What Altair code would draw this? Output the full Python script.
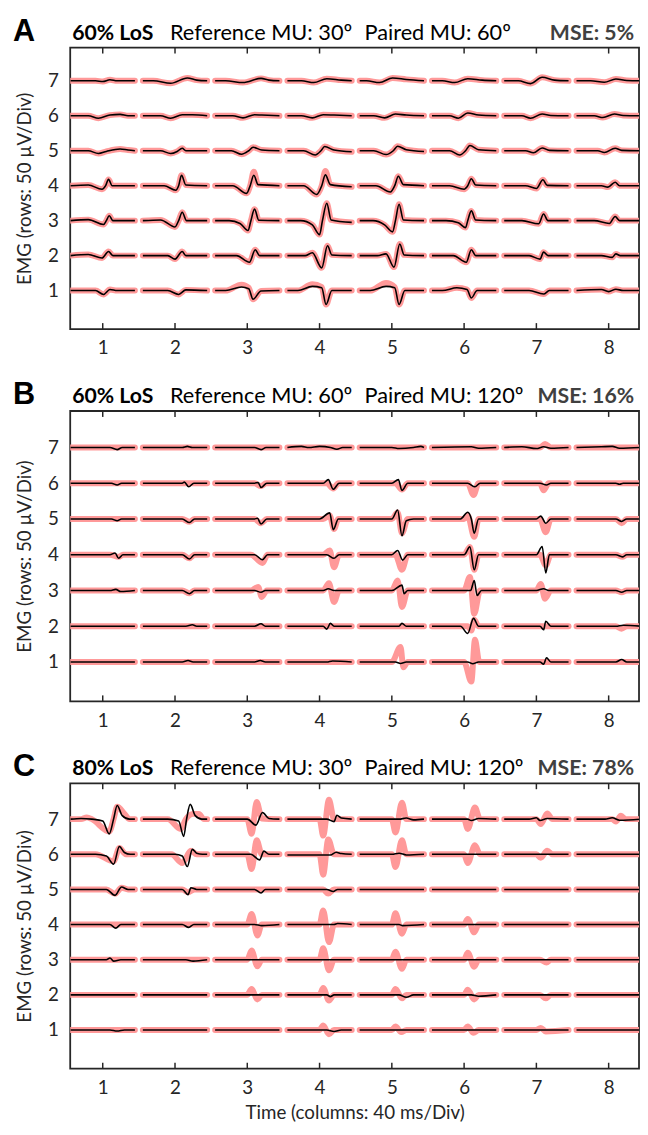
import altair as alt
import pandas as pd

# ---------------- data ----------------
COLS = [1, 2, 3, 4, 5, 6, 7, 8]
ROWS = [1, 2, 3, 4, 5, 6, 7]
X_TICKS = [1, 2, 3, 4, 5, 6, 7, 8]
Y_TICKS = [1, 2, 3, 4, 5, 6, 7]
HALF = 0.445  # half width of one waveform window (in column units)

# Each cell (column, row) -> keypoints (time offset in columns, amplitude in rows)
# Cells not listed are flat.

# Panel A - paired MU (black)
A_PAIRED = {
    (1, 7): [(-0.1, 0), (0.0, -0.02), (0.1, 0.03), (0.2, 0)],
    (2, 7): [(-0.3, 0), (-0.06, -0.07), (0.17, 0.08), (0.3, 0.02)],
    (3, 7): [(-0.3, 0), (-0.06, -0.05), (0.19, 0.07), (0.3, 0.02)],
    (4, 7): [(-0.25, 0), (-0.08, -0.05), (0.1, 0.06), (0.3, 0.02)],
    (5, 7): [(-0.35, 0), (-0.17, -0.05), (0.01, 0.08), (0.2, 0.04)],
    (6, 7): [(-0.3, 0), (-0.13, -0.05), (0.05, 0.06), (0.25, 0.02)],
    (7, 7): [(-0.25, 0), (-0.08, -0.08), (0.08, 0.1), (0.25, 0.02)],
    (8, 7): [(-0.25, 0), (-0.06, -0.04), (0.1, 0.05), (0.25, 0.01)],
    (1, 6): [(-0.2, 0), (-0.06, -0.07), (0.1, 0.02), (0.24, 0.04), (0.35, 0)],
    (2, 6): [(-0.2, 0), (-0.06, -0.07), (0.1, 0.03), (0.24, 0.03)],
    (3, 6): [(-0.2, 0), (-0.06, -0.06), (0.1, 0.03), (0.2, 0.02)],
    (4, 6): [(-0.25, 0), (-0.1, -0.06), (0.05, 0.03), (0.2, 0.02)],
    (5, 6): [(-0.25, 0), (-0.1, -0.06), (0.05, 0.05), (0.2, 0.02)],
    (6, 6): [(-0.2, 0), (-0.08, -0.07), (0.05, 0.08), (0.2, 0.02)],
    (7, 6): [(-0.2, 0), (-0.08, -0.07), (0.08, 0.05), (0.2, 0.01)],
    (8, 6): [(-0.2, 0), (-0.08, -0.05), (0.08, 0.05), (0.2, 0.01)],
    (1, 5): [(-0.2, 0), (-0.06, -0.08), (0.05, -0.02), (0.24, 0.05), (0.35, 0.02)],
    (2, 5): [(-0.2, 0), (-0.06, -0.08), (0.03, -0.02), (0.1, 0.07), (0.15, 0.0)],
    (3, 5): [(-0.22, 0), (-0.08, -0.1), (0.02, 0), (0.08, 0.1), (0.2, 0.02)],
    (4, 5): [(-0.22, 0), (-0.06, -0.12), (0.02, 0), (0.07, 0.12), (0.2, 0.02), (0.445, -0.03)],
    (5, 5): [(-0.25, 0), (-0.08, -0.11), (0.02, 0), (0.08, 0.13), (0.2, 0.03), (0.445, -0.02)],
    (6, 5): [(-0.2, 0), (-0.06, -0.12), (0.02, 0), (0.08, 0.15), (0.2, 0.03)],
    (7, 5): [(-0.15, 0), (-0.04, -0.06), (0.08, 0.08), (0.18, 0.01)],
    (8, 5): [(-0.15, 0), (-0.06, -0.05), (0.09, 0.07), (0.18, 0.01)],
    (1, 4): [(-0.2, 0.02), (-0.01, -0.1), (0.04, 0), (0.08, 0.18), (0.13, 0.0)],
    (2, 4): [(-0.15, 0), (0.01, -0.13), (0.05, 0), (0.09, 0.3), (0.15, 0.02)],
    (3, 4): [(-0.2, 0), (-0.01, -0.22), (0.04, 0), (0.09, 0.3), (0.15, 0.03)],
    (4, 4): [(-0.22, 0), (-0.04, -0.25), (0.03, 0), (0.08, 0.31), (0.15, 0.03), (0.445, -0.03)],
    (5, 4): [(-0.22, 0), (-0.02, -0.18), (0.04, 0), (0.09, 0.27), (0.16, 0.03)],
    (6, 4): [(-0.2, 0), (0.0, -0.1), (0.05, 0), (0.1, 0.2), (0.16, 0.02)],
    (7, 4): [(-0.15, 0), (0.0, -0.08), (0.09, 0.17), (0.15, 0.01)],
    (8, 4): [(-0.1, 0), (-0.01, -0.04), (0.09, 0.1), (0.15, 0.0)],
    (1, 3): [(-0.2, 0.03), (0.01, -0.11), (0.05, 0), (0.09, 0.14), (0.14, 0)],
    (2, 3): [(-0.2, 0.02), (0.0, -0.18), (0.05, 0), (0.1, 0.24), (0.16, 0)],
    (3, 3): [(-0.25, 0), (-0.1, -0.08), (0.01, -0.28), (0.05, 0), (0.1, 0.33), (0.16, 0.01)],
    (4, 3): [(-0.26, 0), (-0.1, -0.12), (0.0, -0.4), (0.04, 0), (0.1, 0.5), (0.16, 0.02), (0.445, -0.05)],
    (5, 3): [(-0.26, 0), (-0.1, -0.12), (0.01, -0.32), (0.05, 0), (0.1, 0.47), (0.16, 0.02)],
    (6, 3): [(-0.25, 0), (-0.08, -0.06), (0.02, -0.2), (0.05, 0), (0.1, 0.28), (0.16, 0.02)],
    (7, 3): [(-0.2, 0), (0.03, -0.09), (0.1, 0.19), (0.16, 0.0)],
    (8, 3): [(-0.2, 0), (0.01, -0.08), (0.09, 0.12), (0.15, 0.0)],
    (1, 2): [(-0.2, 0.03), (-0.01, -0.07), (0.08, 0.12), (0.14, 0)],
    (2, 2): [(-0.1, 0), (0.0, -0.1), (0.1, 0.12), (0.15, 0)],
    (3, 2): [(-0.15, 0), (0.03, -0.19), (0.11, 0.17), (0.17, 0.0)],
    (4, 2): [(-0.2, 0), (-0.1, 0.08), (0.03, -0.35), (0.11, 0.28), (0.17, 0.02)],
    (5, 2): [(-0.2, 0), (-0.08, 0.05), (0.03, -0.33), (0.11, 0.33), (0.17, 0.02)],
    (6, 2): [(-0.15, 0), (0.03, -0.19), (0.1, 0.17), (0.16, 0.0)],
    (7, 2): [(-0.1, 0), (0.05, -0.1), (0.1, 0.1), (0.16, 0)],
    (8, 2): [(-0.1, 0), (0.05, -0.05), (0.1, 0.05), (0.16, 0)],
    (1, 1): [(-0.1, 0), (0.01, -0.11), (0.1, 0.03), (0.2, 0)],
    (2, 1): [(-0.1, 0), (0.05, -0.11), (0.15, 0.02)],
    (3, 1): [(-0.3, 0), (-0.08, 0.1), (0.02, 0.05), (0.08, -0.25), (0.19, -0.01)],
    (4, 1): [(-0.3, 0), (-0.1, 0.12), (0.03, 0.08), (0.09, -0.4), (0.17, 0.0)],
    (5, 1): [(-0.3, 0), (-0.08, 0.12), (0.04, 0.08), (0.1, -0.4), (0.18, 0.0)],
    (6, 1): [(-0.3, 0), (-0.1, 0.08), (0.04, 0.03), (0.1, -0.21), (0.18, 0)],
    (7, 1): [(-0.1, 0), (0.1, -0.1), (0.18, 0)],
    (8, 1): [(-0.1, 0.03), (0.0, -0.03), (0.1, 0.04), (0.2, 0)],
}
# Panel A - reference MU (pink): same as paired except these cells
A_REFERENCE_DIFF = {
    (3, 4): [(-0.2, 0), (-0.01, -0.22), (0.04, 0), (0.09, 0.4), (0.15, 0.03)],
    (4, 4): [(-0.22, 0), (-0.04, -0.25), (0.03, 0), (0.08, 0.42), (0.15, 0.03), (0.445, -0.03)],
    (3, 1): [(-0.3, 0), (-0.08, 0.17), (0.02, 0.08), (0.08, -0.25), (0.19, -0.01)],
    (4, 1): [(-0.3, 0), (-0.1, 0.18), (0.03, 0.1), (0.09, -0.4), (0.17, 0.0)],
    (5, 1): [(-0.3, 0), (-0.08, 0.22), (0.04, 0.1), (0.1, -0.4), (0.18, 0.0)],
}
A_REFERENCE = {**A_PAIRED, **A_REFERENCE_DIFF}

# Panel B - paired MU (black)
B_PAIRED = {
    (1, 7): [(0.1, 0), (0.2, -0.06), (0.27, 0)],
    (2, 7): [(0.1, 0), (0.17, 0.03), (0.24, 0)],
    (3, 7): [(0.1, 0), (0.19, -0.06), (0.26, 0)],
    (4, 7): [(-0.25, 0.03), (-0.15, 0), (0.0, 0.03), (0.15, 0), (0.24, -0.05), (0.32, 0)],
    (5, 7): [(0.0, 0), (0.1, -0.03), (0.3, 0), (0.4, 0.03)],
    (6, 7): [(0.1, 0.02), (0.2, -0.02)],
    (7, 7): [(-0.2, 0.02), (0.0, -0.03), (0.1, 0.02), (0.2, -0.02)],
    (8, 7): [(-0.1, 0.02), (0.05, 0.03), (0.15, -0.02)],
    (1, 6): [(0.12, 0), (0.2, -0.05), (0.26, 0)],
    (2, 6): [(0.1, 0), (0.13, 0.03), (0.19, -0.1), (0.26, 0)],
    (3, 6): [(0.1, 0), (0.15, 0.02), (0.19, -0.12), (0.27, 0)],
    (4, 6): [(0.05, 0), (0.12, 0.1), (0.19, -0.17), (0.27, 0)],
    (5, 6): [(0.0, 0), (0.09, 0.1), (0.14, -0.2), (0.22, 0)],
    (6, 6): [(0.05, 0), (0.15, -0.1), (0.22, 0)],
    (7, 6): [(0.05, 0), (0.14, -0.05), (0.2, 0)],
    (8, 6): [(0.1, 0), (0.15, -0.03), (0.2, 0)],
    (1, 5): [(0.12, 0), (0.2, -0.05), (0.26, 0)],
    (2, 5): [(0.1, 0), (0.2, -0.1), (0.27, 0)],
    (3, 5): [(0.1, 0), (0.14, 0.02), (0.19, -0.14), (0.27, 0)],
    (4, 5): [(0.0, 0), (0.14, 0.17), (0.19, -0.3), (0.26, 0)],
    (5, 5): [(0.0, 0), (0.08, 0.25), (0.14, -0.47), (0.2, -0.05), (0.3, 0)],
    (6, 5): [(-0.05, 0), (0.05, 0.19), (0.1, 0.0), (0.14, -0.4), (0.2, 0)],
    (7, 5): [(0.0, 0), (0.06, 0.08), (0.13, -0.12), (0.2, 0)],
    (8, 5): [(0.1, 0), (0.18, -0.07), (0.25, 0)],
    (1, 4): [(0.1, 0), (0.17, 0.05), (0.22, -0.1), (0.28, 0)],
    (2, 4): [(0.1, 0), (0.2, -0.12), (0.27, 0)],
    (3, 4): [(0.1, 0), (0.21, -0.14), (0.28, 0)],
    (4, 4): [(0.1, 0), (0.2, -0.1), (0.27, 0)],
    (5, 4): [(0.0, 0), (0.08, 0.12), (0.15, -0.15), (0.22, 0)],
    (6, 4): [(0.0, 0), (0.08, 0.22), (0.14, -0.42), (0.2, 0)],
    (7, 4): [(0.0, 0), (0.08, 0.23), (0.13, -0.51), (0.18, 0)],
    (8, 4): [(0.1, 0), (0.19, -0.06), (0.25, 0)],
    (1, 3): [(0.1, 0), (0.18, 0.03), (0.25, -0.03)],
    (2, 3): [(0.1, 0), (0.2, -0.09), (0.27, 0)],
    (3, 3): [(0.1, 0), (0.19, -0.05), (0.25, 0)],
    (4, 3): [(0.05, 0), (0.12, 0.05), (0.2, 0)],
    (5, 3): [(0.0, 0), (0.14, 0.15), (0.17, -0.09), (0.22, 0)],
    (6, 3): [(0.0, 0), (0.09, 0.0), (0.14, 0.28), (0.18, -0.14), (0.24, 0)],
    (7, 3): [(0.0, 0), (0.1, 0.05), (0.17, 0)],
    (8, 3): [(0.1, 0), (0.18, -0.05), (0.25, 0)],
    (2, 2): [(0.15, 0), (0.24, 0.04), (0.3, 0)],
    (3, 2): [(0.1, 0), (0.19, 0.07), (0.25, 0)],
    (4, 2): [(0.05, 0), (0.1, -0.08), (0.15, 0.08), (0.2, 0)],
    (5, 2): [(0.1, 0), (0.14, 0.08), (0.2, 0)],
    (6, 2): [(-0.05, 0), (0.05, -0.2), (0.13, 0.22), (0.2, 0)],
    (7, 2): [(0.05, 0), (0.1, -0.1), (0.13, 0.14), (0.2, 0)],
    (8, 2): [(0.1, 0), (0.2, 0.03)],
    (2, 1): [(0.1, 0), (0.18, 0.04), (0.25, 0)],
    (3, 1): [(0.1, 0), (0.18, 0.04), (0.25, 0)],
    (4, 1): [(0.1, 0), (0.18, 0.03)],
    (5, 1): [(0.05, 0), (0.12, -0.04), (0.2, 0)],
    (6, 1): [(0.05, 0), (0.12, -0.05), (0.2, 0)],
    (7, 1): [(0.05, 0), (0.1, -0.06), (0.14, 0.12), (0.2, 0)],
    (8, 1): [(0.1, 0), (0.18, 0.07), (0.25, 0)],
}
# Panel B - reference MU (pink)
B_REFERENCE = {
    (7, 7): [(0.05, 0), (0.12, 0.1), (0.2, 0)],
    (3, 6): [(0.1, 0), (0.19, -0.08), (0.26, 0)],
    (4, 6): [(0.1, 0), (0.19, -0.15), (0.26, 0)],
    (5, 6): [(0.05, 0), (0.14, -0.18), (0.22, 0)],
    (6, 6): [(0.05, 0), (0.13, -0.33), (0.2, 0)],
    (7, 6): [(0.05, 0), (0.1, -0.2), (0.17, 0)],
    (2, 5): [(0.1, 0), (0.2, -0.08), (0.27, 0)],
    (3, 5): [(0.1, 0), (0.19, -0.12), (0.27, 0)],
    (4, 5): [(0.05, 0), (0.14, 0.1), (0.2, -0.28), (0.26, 0)],
    (5, 5): [(0.0, 0), (0.08, 0.18), (0.14, -0.4), (0.22, 0)],
    (6, 5): [(0.0, 0), (0.05, 0.1), (0.14, -0.5), (0.2, 0)],
    (7, 5): [(0.05, 0), (0.13, -0.37), (0.2, 0)],
    (8, 5): [(0.1, 0), (0.18, -0.12), (0.25, 0)],
    (1, 4): [(0.1, 0), (0.22, -0.06), (0.28, 0)],
    (2, 4): [(0.1, 0), (0.2, -0.1), (0.27, 0)],
    (3, 4): [(0.05, 0), (0.21, -0.23), (0.28, 0)],
    (4, 4): [(0.05, 0), (0.14, 0.12), (0.2, -0.35), (0.27, 0)],
    (5, 4): [(0.05, 0), (0.14, -0.42), (0.22, 0)],
    (6, 4): [(0.0, 0), (0.08, 0.22), (0.14, -0.42), (0.2, 0)],
    (7, 4): [(0.05, 0), (0.13, -0.3), (0.2, 0)],
    (8, 4): [(0.1, 0), (0.19, -0.06), (0.25, 0)],
    (2, 3): [(0.1, 0), (0.2, -0.08), (0.27, 0)],
    (3, 3): [(0.05, 0), (0.15, 0.1), (0.2, -0.18), (0.27, 0)],
    (4, 3): [(0.05, 0), (0.13, 0.2), (0.2, -0.32), (0.27, 0)],
    (5, 3): [(0.0, 0), (0.08, 0.28), (0.14, -0.46), (0.22, 0)],
    (6, 3): [(0.0, 0), (0.08, 0.38), (0.14, -0.65), (0.22, 0)],
    (7, 3): [(0.0, 0), (0.06, 0.18), (0.12, -0.23), (0.2, 0)],
    (8, 3): [(0.1, 0), (0.18, -0.05), (0.25, 0)],
    (6, 2): [(0.05, 0), (0.1, -0.12), (0.14, 0.18), (0.2, 0)],
    (8, 2): [(0.1, 0), (0.18, -0.07), (0.25, 0)],
    (5, 1): [(0.0, 0), (0.12, 0.42), (0.16, -0.15), (0.22, 0)],
    (6, 1): [(0.0, 0), (0.1, -0.55), (0.15, 0.62), (0.21, 0)],
}

# Panel C - paired MU (black)
C_PAIRED = {
    (1, 7): [(-0.3, 0.02), (-0.15, 0), (0.0, -0.05), (0.09, -0.42), (0.15, 0.0), (0.2, 0.39), (0.27, 0.1), (0.37, 0.0)],
    (2, 7): [(-0.1, 0), (0.05, -0.05), (0.12, -0.49), (0.16, 0), (0.21, 0.42), (0.28, 0.1), (0.37, 0)],
    (3, 7): [(0.0, 0), (0.12, -0.17), (0.21, 0.19), (0.3, 0.02)],
    (4, 7): [(0.1, 0), (0.2, -0.07), (0.24, 0.11), (0.3, 0.03)],
    (5, 7): [(0.1, 0), (0.2, 0.03), (0.3, -0.02)],
    (6, 7): [(0.05, 0), (0.1, -0.04), (0.2, 0.02)],
    (7, 7): [(-0.1, 0), (0.0, 0.04), (0.05, -0.04), (0.15, 0.02)],
    (8, 7): [(-0.05, 0), (0.05, 0.04), (0.15, -0.03)],
    (1, 6): [(-0.1, 0), (0.05, -0.05), (0.15, -0.28), (0.23, 0.22), (0.3, 0.05), (0.38, 0)],
    (2, 6): [(0.0, 0), (0.1, -0.05), (0.17, -0.35), (0.24, 0.14), (0.3, 0.03), (0.38, 0)],
    (3, 6): [(0.05, 0), (0.17, -0.16), (0.23, 0.09), (0.3, 0)],
    (4, 6): [(-0.445, -0.02), (0.15, -0.02), (0.23, 0.06), (0.3, 0.02), (0.445, 0)],
    (5, 6): [(0.0, 0), (0.1, 0.03), (0.2, -0.02)],
    (1, 5): [(0.05, 0), (0.17, -0.17), (0.26, 0.07), (0.35, 0)],
    (2, 5): [(0.1, 0), (0.18, -0.15), (0.22, 0.05), (0.3, 0)],
    (3, 5): [(0.1, 0), (0.19, -0.1), (0.25, 0)],
    (4, 5): [(0.1, 0), (0.19, -0.06), (0.25, 0)],
    (1, 4): [(0.1, 0), (0.18, -0.1), (0.25, 0)],
    (2, 4): [(0.1, 0), (0.19, -0.08), (0.26, 0)],
    (3, 4): [(0.1, 0), (0.2, -0.03)],
    (4, 4): [(0.2, 0), (0.25, 0.03)],
    (5, 4): [(0.1, 0), (0.15, -0.03)],
    (1, 3): [(0.05, 0), (0.1, 0.05), (0.15, -0.04), (0.25, 0)],
    (2, 3): [(0.15, 0), (0.25, -0.04)],
    (4, 2): [(0.1, 0), (0.15, -0.05), (0.2, 0)],
    (5, 2): [(0.1, 0), (0.2, -0.07), (0.3, 0)],
    (6, 2): [(0.1, 0), (0.2, -0.04)],
    (1, 1): [(0.1, 0), (0.2, -0.03), (0.3, 0)],
    (4, 1): [(0.1, 0), (0.2, -0.04), (0.3, 0)],
}
# Panel C - reference MU (pink)
C_REFERENCE = {
    (1, 7): [(-0.3, 0.0), (-0.22, 0.05), (-0.15, 0), (0.09, -0.35), (0.15, 0.0), (0.2, 0.35), (0.3, 0.15), (0.37, 0.0)],
    (2, 7): [(-0.1, 0), (0.08, -0.28), (0.15, 0.0), (0.25, 0.15), (0.33, 0.15), (0.4, 0)],
    (3, 7): [(0.0, 0), (0.06, -0.42), (0.13, 0.49), (0.2, 0.02)],
    (4, 7): [(0.0, 0), (0.05, -0.47), (0.13, 0.55), (0.2, 0)],
    (5, 7): [(0.0, 0), (0.05, -0.38), (0.14, 0.47), (0.2, 0)],
    (6, 7): [(0.0, 0), (0.05, -0.28), (0.15, 0.33), (0.22, 0)],
    (7, 7): [(0.0, 0), (0.06, -0.14), (0.15, 0.16), (0.22, 0)],
    (8, 7): [(0.05, 0), (0.1, -0.07), (0.17, 0.1), (0.23, 0)],
    (1, 6): [(-0.1, 0), (0.15, -0.2), (0.23, 0.18), (0.32, 0)],
    (2, 6): [(-0.05, 0), (0.1, -0.25), (0.22, 0.1), (0.3, 0)],
    (3, 6): [(0.0, 0), (0.06, -0.42), (0.13, 0.4), (0.2, 0)],
    (4, 6): [(0.0, 0), (0.05, -0.58), (0.12, 0.42), (0.2, 0)],
    (5, 6): [(0.0, 0), (0.05, -0.36), (0.14, 0.4), (0.2, 0)],
    (6, 6): [(0.0, 0), (0.05, -0.25), (0.15, 0.26), (0.22, 0)],
    (7, 6): [(0.0, 0), (0.06, -0.1), (0.15, 0.1), (0.22, 0)],
    (1, 5): [(0.05, 0), (0.17, -0.12), (0.26, 0.05), (0.35, 0)],
    (2, 5): [(0.1, 0), (0.18, -0.08), (0.27, 0)],
    (4, 5): [(0.05, 0), (0.12, -0.12), (0.2, 0)],
    (3, 4): [(0.0, 0), (0.06, 0.3), (0.14, -0.31), (0.2, 0)],
    (4, 4): [(0.0, 0), (0.05, 0.4), (0.13, -0.5), (0.2, 0)],
    (5, 4): [(0.0, 0), (0.05, 0.32), (0.14, -0.26), (0.2, 0)],
    (6, 4): [(0.0, 0), (0.05, 0.16), (0.14, -0.22), (0.2, 0)],
    (3, 3): [(0.0, 0), (0.06, 0.26), (0.14, -0.19), (0.2, 0)],
    (4, 3): [(0.0, 0), (0.05, 0.33), (0.13, -0.3), (0.2, 0)],
    (5, 3): [(0.0, 0), (0.05, 0.23), (0.14, -0.26), (0.2, 0)],
    (6, 3): [(0.0, 0), (0.05, 0.2), (0.14, -0.2), (0.2, 0)],
    (7, 3): [(0.05, 0), (0.14, -0.08), (0.2, 0)],
    (3, 2): [(0.0, 0), (0.06, 0.17), (0.14, -0.13), (0.2, 0)],
    (4, 2): [(0.0, 0), (0.05, 0.2), (0.13, -0.16), (0.2, 0)],
    (5, 2): [(0.0, 0), (0.05, 0.17), (0.14, -0.1), (0.2, 0)],
    (6, 2): [(0.0, 0), (0.05, 0.15), (0.14, -0.13), (0.2, 0)],
    (7, 2): [(0.05, 0), (0.13, -0.1), (0.2, 0)],
    (4, 1): [(0.0, 0), (0.05, 0.13), (0.13, -0.12), (0.2, 0)],
    (5, 1): [(0.0, 0), (0.05, 0.1), (0.13, -0.06), (0.2, 0)],
    (6, 1): [(0.0, 0), (0.05, 0.1), (0.13, -0.08), (0.2, 0)],
    (7, 1): [(0.0, 0), (0.06, 0.06), (0.13, -0.04)],
}

PANEL_LETTERS = ["A", "B", "C"]
PANEL_LOS = ["60% LoS", "60% LoS", "80% LoS"]
PANEL_REF = ["Reference MU: 30º", "Reference MU: 60º", "Reference MU: 30º"]
PANEL_PAIR = ["Paired MU: 60º", "Paired MU: 120º", "Paired MU: 120º"]
PANEL_MSE = ["MSE: 5%", "MSE: 16%", "MSE: 78%"]

# ---------------- styling ----------------
PINK = "#ff9999"
FRAME = "#262626"
FONT = "Lato"
W = 576
PANEL_H = [285, 294, 289]
X_DOM = [0.55, 8.42]
Y_DOMS = [[-0.1, 7.95], [-0.1, 8.02], [-0.1, 8.02]]


def build(paired, reference):
    recs = []
    for series, d in (("ref", reference), ("pair", paired)):
        for c in COLS:
            for r in ROWS:
                pts = sorted(d.get((c, r), []))
                if not pts or pts[0][0] > -HALF:
                    pts = [(-HALF, 0.0)] + pts
                if pts[-1][0] < HALF:
                    pts = pts + [(HALF, 0.0)]
                for i, (t, v) in enumerate(pts):
                    recs.append({"series": series, "cell": f"{c}-{r}", "i": i,
                                 "x": c + t, "y": r + v})
    return pd.DataFrame(recs)


def panel(k, paired, reference, last):
    df = build(paired, reference)
    H = PANEL_H[k]
    xs = alt.Scale(domain=X_DOM, nice=False, zero=False)
    ys = alt.Scale(domain=Y_DOMS[k], nice=False, zero=False)
    xaxis = alt.Axis(values=X_TICKS, format="d", ticks=False, domain=False, grid=False,
                     labelPadding=10, labelFontSize=19, labelColor=FRAME,
                     labelFont=FONT, labelFlush=False,
                     title="Time (columns: 40 ms/Div)" if last else None,
                     titleFont=FONT, titleFontSize=19, titleFontWeight="normal",
                     titleColor=FRAME, titlePadding=6)
    yaxis = alt.Axis(values=Y_TICKS, format="d", ticks=False, domain=False, grid=False,
                     labelPadding=12, labelFontSize=19, labelColor=FRAME,
                     labelFont=FONT, labelFlush=False,
                     title="EMG (rows: 50 µV/Div)", titleFont=FONT,
                     titleFontSize=19, titleFontWeight="normal",
                     titleColor=FRAME, titlePadding=13)

    ref = alt.Chart(df).transform_filter(alt.datum.series == "ref").mark_line(
        color=PINK, strokeWidth=6, strokeCap="round", strokeJoin="round",
        interpolate="monotone", clip=True
    ).encode(x=alt.X("x:Q", scale=xs, axis=xaxis),
             y=alt.Y("y:Q", scale=ys, axis=yaxis),
             detail="cell:N", order="i:Q")
    pair = alt.Chart(df).transform_filter(alt.datum.series == "pair").mark_line(
        color="black", strokeWidth=1.6, strokeJoin="round",
        interpolate="monotone", clip=True
    ).encode(x=alt.X("x:Q", scale=xs), y=alt.Y("y:Q", scale=ys),
             detail="cell:N", order="i:Q")

    xt = pd.DataFrame({"x": X_TICKS})
    top_t = alt.Chart(xt).mark_rule(color=FRAME, strokeWidth=1.5).encode(
        x=alt.X("x:Q", scale=xs), y=alt.value(0), y2=alt.value(6))
    bot_t = alt.Chart(xt).mark_rule(color=FRAME, strokeWidth=1.5).encode(
        x=alt.X("x:Q", scale=xs), y=alt.value(H), y2=alt.value(H - 6))

    def txt(s, x, align, weight, color, size, font=FONT, y=-8):
        return alt.Chart(pd.DataFrame({"s": [s]})).mark_text(
            align=align, baseline="alphabetic", font=font, fontSize=size,
            fontWeight=weight, color=color
        ).encode(x=alt.value(x), y=alt.value(y), text="s:N")

    texts = [
        txt(PANEL_LETTERS[k], -58, "left", "bold", "black", 31, "Liberation Sans", -7),
        txt(PANEL_LOS[k], 2, "left", "bold", "black", 21.5),
        txt(PANEL_REF[k], 101, "left", "normal", "black", 22),
        txt(PANEL_PAIR[k], 298, "left", "normal", "black", 22),
        txt(PANEL_MSE[k], 571, "right", "bold", "#404040", 21.5),
    ]
    return alt.layer(ref, pair, top_t, bot_t, *texts).properties(width=W, height=H)


chart = alt.vconcat(
    panel(0, A_PAIRED, A_REFERENCE, False),
    panel(1, B_PAIRED, B_REFERENCE, False),
    panel(2, C_PAIRED, C_REFERENCE, True),
    spacing=83, bounds="flush",
).properties(
    padding={"left": 4, "top": 0, "right": 0, "bottom": 0}
).configure_view(stroke=FRAME, strokeWidth=1.8)

chart.save("out.html", embed_options={"renderer": "svg", "actions": False})
